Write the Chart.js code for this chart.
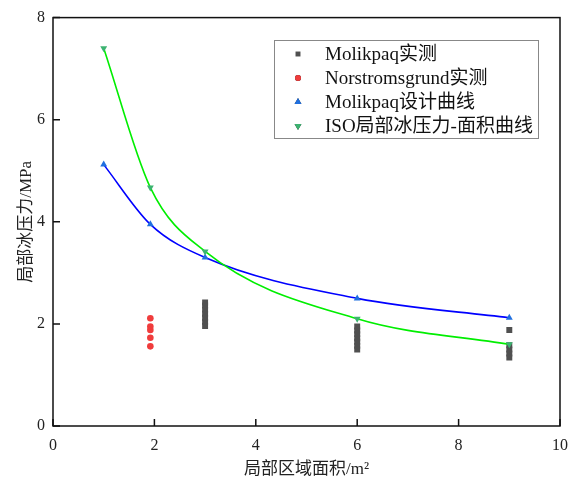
<!DOCTYPE html>
<html>
<head>
<meta charset="utf-8">
<script src="https://cdn.jsdelivr.net/npm/chart.js@4.4.1/dist/chart.umd.min.js"></script>
<style>
  html, body { margin: 0; padding: 0; background: #fff; }
  #wrap { width: 578px; height: 480px; }
</style>
</head>
<body>
<div id="wrap"><canvas id="ice-chart"></canvas></div>
<script>
// measured local ice pressure (MPa) vs local area (m2)
const molikpaqX = [3, 3, 3, 3, 3, 3, 3, 6, 6, 6, 6, 6, 6, 6, 9, 9, 9, 9, 9];
const molikpaqY = [2.42, 2.36, 2.28, 2.20, 2.12, 2.04, 1.96,
                   1.95, 1.87, 1.80, 1.72, 1.65, 1.57, 1.50,
                   1.88, 1.58, 1.50, 1.42, 1.34];
const norX = [1.92, 1.92, 1.92, 1.92, 1.92];
const norY = [2.11, 1.95, 1.88, 1.73, 1.56];

// design curves
const curveX = [1, 1.92, 3, 6, 9];
const designY = [5.12, 3.95, 3.30, 2.50, 2.12];
const isoY = [7.40, 4.67, 3.42, 2.10, 1.60];

const xTicks = [0, 2, 4, 6, 8, 10];
const yTicks = [0, 2, 4, 6, 8];

const seriesNames = ['Molikpaq实测', 'Norstromsgrund实测', 'Molikpaq设计曲线', 'ISO局部冰压力-面积曲线'];

const serif = '"Liberation Serif", "Times New Roman", "Noto Sans CJK SC", serif';

function pts(xs, ys) {
    return xs.map((x, i) => ({ x: x, y: ys[i] }));
}

// frame + inward ticks + legend box
const framePlugin = {
    id: 'frame',
    afterDatasetsDraw(chart) {
        const ctx = chart.ctx;
        const a = chart.chartArea;
        const xs = chart.scales.x, ys = chart.scales.y;
        ctx.save();
        ctx.strokeStyle = '#111';
        ctx.lineWidth = 1.5;
        ctx.strokeRect(a.left, a.top, a.right - a.left, a.bottom - a.top);
        ctx.beginPath();
        xTicks.forEach(v => {
            const px = xs.getPixelForValue(v);
            ctx.moveTo(px, a.bottom);
            ctx.lineTo(px, a.bottom - 7);
        });
        yTicks.forEach(v => {
            const py = ys.getPixelForValue(v);
            ctx.moveTo(a.left, py);
            ctx.lineTo(a.left + 7, py);
        });
        ctx.stroke();

        // legend
        const lx = 274, ly = 40, lw = 264, lh = 98;
        ctx.fillStyle = '#fff';
        ctx.fillRect(lx, ly, lw, lh);
        ctx.strokeStyle = '#888';
        ctx.lineWidth = 1;
        ctx.strokeRect(lx + 0.5, ly + 0.5, lw, lh);
        ctx.font = '19px ' + serif;
        ctx.textBaseline = 'middle';
        const styles = [
            { style: 'rect', color: '#505050', r: 3.5, rot: 0 },
            { style: 'circle', color: '#f03c3c', r: 3, rot: 0 },
            { style: 'triangle', color: '#1f6fe0', r: 4, rot: 0 },
            { style: 'triangle', color: '#3cb371', r: 4, rot: 180 }
        ];
        styles.forEach((s, i) => {
            const y = ly + 14 + i * 24;
            Chart.helpers.drawPoint(ctx, {
                pointStyle: s.style, radius: s.r, rotation: s.rot,
                borderWidth: 0
            }, lx + 24, y);
            ctx.fillStyle = s.color;
            ctx.fill();
            ctx.fillStyle = '#111';
            ctx.fillText(seriesNames[i], lx + 51, y + 1);
        });
        ctx.restore();
    }
};

const ctx = document.getElementById('ice-chart').getContext('2d');
new Chart(ctx, {
    type: 'scatter',
    data: {
        datasets: [
            {
                label: seriesNames[0],
                data: pts(molikpaqX, molikpaqY),
                pointStyle: 'rect',
                pointRadius: 4.2,
                backgroundColor: '#505050',
                borderColor: '#505050',
                borderWidth: 0,
                order: 4
            },
            {
                label: seriesNames[1],
                data: pts(norX, norY),
                pointStyle: 'circle',
                pointRadius: 3.3,
                backgroundColor: '#f03c3c',
                borderColor: '#f03c3c',
                borderWidth: 0,
                order: 3
            },
            {
                label: seriesNames[2],
                data: pts(curveX, designY),
                showLine: true,
                cubicInterpolationMode: 'monotone',
                borderColor: '#0000ff',
                borderWidth: 1.6,
                pointStyle: 'triangle',
                pointRadius: 4,
                pointBackgroundColor: '#1f6fe0',
                pointBorderWidth: 0,
                order: 2
            },
            {
                label: seriesNames[3],
                data: pts(curveX, isoY),
                showLine: true,
                cubicInterpolationMode: 'monotone',
                borderColor: '#00ee00',
                borderWidth: 1.6,
                pointStyle: 'triangle',
                pointRotation: 180,
                pointRadius: 4,
                pointBackgroundColor: '#3cb371',
                pointBorderWidth: 0,
                order: 1
            }
        ]
    },
    options: {
        responsive: true,
        maintainAspectRatio: false,
        animation: false,
        layout: { padding: { top: 15, right: 13, left: 0, bottom: 0 } },
        plugins: {
            legend: { display: false },
            tooltip: { enabled: false }
        },
        scales: {
            x: {
                type: 'linear',
                min: 0,
                max: 10,
                afterBuildTicks: s => { s.ticks = xTicks.map(v => ({ value: v })); },
                afterFit: s => { s.height = 54; },
                grid: { display: false, drawTicks: false },
                border: { display: false },
                ticks: { color: '#222', padding: 10, font: { family: serif, size: 16 } },
                title: {
                    display: true,
                    text: '局部区域面积/m²',
                    color: '#222',
                    padding: { top: 2, bottom: 0 },
                    font: { family: serif, size: 17 }
                }
            },
            y: {
                min: 0,
                max: 8,
                afterBuildTicks: s => { s.ticks = yTicks.map(v => ({ value: v })); },
                afterFit: s => { s.width = 53; },
                grid: { display: false, drawTicks: false },
                border: { display: false },
                ticks: { color: '#222', padding: 8, font: { family: serif, size: 16 } },
                title: {
                    display: true,
                    text: '局部冰压力/MPa',
                    color: '#222',
                    padding: { top: 16, bottom: 0 },
                    font: { family: serif, size: 17 }
                }
            }
        }
    },
    plugins: [framePlugin]
});
</script>
</body>
</html>
